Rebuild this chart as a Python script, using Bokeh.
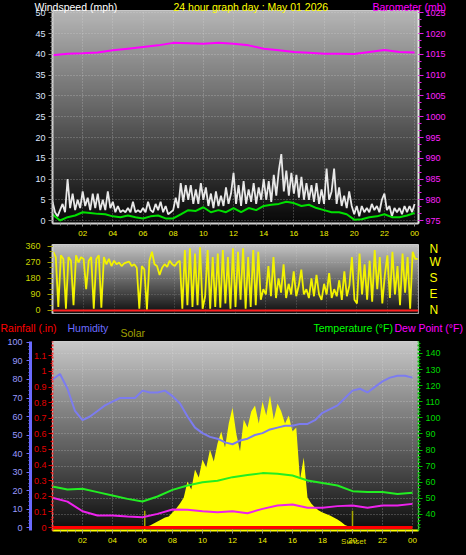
import numpy as np
from bokeh.plotting import figure
from bokeh.layouts import column
from bokeh.models import (Range1d, LinearAxis, FixedTicker, SingleIntervalTicker,
                          Label, Span, NumeralTickFormatter, GridBox)
from bokeh.embed import file_html
from bokeh.resources import INLINE

FONT = "Liberation Sans"

# ---------------- data ----------------
title_text = "24 hour graph day : May 01 2026"
tick_hours = [2, 4, 6, 8, 10, 12, 14, 16, 18, 20, 22, 24]
tick_labels = ["02", "04", "06", "08", "10", "12", "14", "16", "18", "20", "22", "00"]

# wind gust (mph), every 10 minutes 00:00 .. 24:00
gust_mph = [4.5, 2.0, 1.0, 2.5, 4.0, 2.0,
            10.0, 3.0, 6.5, 2.5, 5.0, 3.0,
            7.0, 3.5, 5.5, 2.5, 6.5, 3.0,
            6.5, 2.5, 5.0, 2.5, 7.0, 3.0,
            4.5, 2.0, 3.5, 2.0, 2.5, 2.0,
            3.0, 2.0, 4.5, 2.0, 2.5, 2.0,
            3.0, 2.0, 4.5, 2.5, 2.0, 4.0,
            2.5, 4.5, 2.0, 3.5, 1.5, 2.0,
            2.5, 5.5, 3.0, 9.0, 4.5, 8.5,
            5.0, 8.5, 4.0, 7.5, 4.0, 9.0,
            5.0, 8.0, 3.5, 6.5, 3.0, 7.0,
            3.5, 6.0, 3.5, 8.0, 4.0, 6.5,
            11.5, 4.0, 8.5, 3.5, 9.5, 4.0,
            7.5, 4.5, 9.0, 4.0, 8.0, 5.0,
            10.0, 5.0, 9.5, 4.5, 11.0, 6.0,
            12.0, 16.0, 7.0, 12.0, 6.0, 11.5,
            6.5, 11.0, 5.5, 10.5, 5.0, 9.0,
            5.0, 8.5, 4.5, 9.0, 4.0, 7.5,
            4.0, 12.5, 5.0, 7.0, 12.5, 4.0,
            8.0, 3.5, 6.0, 3.0, 7.0, 3.5,
            1.5, 3.5, 1.0, 3.5, 2.0, 3.0,
            2.0, 4.0, 2.5, 3.5, 2.0, 5.0,
            6.5, 2.5, 3.5, 1.0, 3.0, 2.0,
            3.0, 1.5, 3.5, 2.0, 3.5, 2.0,
            4.0]
# average wind speed (mph), every 30 minutes
avg_mph = [1.5, 0.0, 0.8, 1.2, 2.0, 1.8, 1.6, 1.5, 1.0, 0.8, 1.2, 0.8, 0.5, 1.0, 1.2, 0.5,
           0.5, 1.5, 2.5, 2.3, 3.2, 2.0, 2.5, 2.0, 3.0, 2.0, 3.0, 2.5, 3.5, 3.8, 4.0, 4.5,
           4.2, 3.5, 3.8, 3.0, 2.5, 2.0, 2.0, 1.5, 0.2, 0.3, 0.8, 1.0, 1.5, 0.8, 0.8, 1.2, 1.8]
# barometer (mb), hourly
baro_mb = [1014.8, 1015.2, 1015.3, 1015.5, 1016.0, 1016.4, 1016.8, 1017.2, 1017.8, 1017.7,
           1017.6, 1017.8, 1017.6, 1017.2, 1016.4, 1016.0, 1015.6, 1015.4, 1015.2, 1015.2,
           1015.1, 1015.6, 1016.1, 1015.6, 1015.5]
# wind direction (degrees), every 10 minutes
wind_dir = [330, 300, 20, 310, 290, 10,
            300, 280, 30, 310, 270, 300,
            290, 120, 280, 300, 10, 290,
            310, 15, 300, 260, 290, 250,
            280, 260, 270, 250, 265, 270,
            275, 250, 260, 240, 10, 250,
            230, 5, 280, 330, 260, 250,
            200, 240, 260, 245, 280, 260,
            250, 270, 280, 10, 340, 30,
            350, 20, 320, 30, 355, 10,
            80, 340, 10, 300, 20, 320,
            15, 340, 40, 300, 10, 350,
            20, 330, 60, 350, 10, 300,
            20, 340, 30, 330, 60, 120,
            90, 250, 80, 300, 70, 180,
            100, 260, 70, 150, 90, 220,
            80, 140, 230, 90, 120, 70,
            180, 80, 200, 90, 60, 150,
            90, 210, 70, 120, 80, 170,
            60, 220, 80, 140, 300, 60,
            40, 320, 90, 260, 60, 280,
            50, 340, 120, 300, 40, 200,
            310, 70, 330, 90, 250, 30,
            320, 100, 300, 10, 330, 290,
            290]
compass_labels = ["N", "W", "S", "E", "N"]
compass_deg = [360, 270, 180, 90, 0]
# humidity (%), every 30 minutes
humidity = [80, 83, 75, 63, 58, 60, 63, 66, 68, 70, 70, 70, 74, 73, 73, 74,
            71, 67, 60, 54, 51, 49, 48, 46, 45, 47, 48, 50, 51, 53, 54, 55,
            55, 56, 56, 58, 62, 64, 66, 70, 74, 75, 73, 76, 79, 81, 82, 82, 81]
# temperature and dew point (F), hourly
temp_f = [57.4, 55.5, 56.0, 53.9, 51.8, 49.7, 48.1, 51.2, 55.3, 58.0, 60.0, 61.0, 63.2,
          64.5, 65.7, 65.3, 64.2, 61.1, 59.5, 58.0, 54.5, 53.9, 53.9, 52.8, 53.5]
dew_f = [50.4, 48.0, 42.0, 39.4, 39.4, 38.8, 38.3, 40.4, 43.1, 42.9, 42.0, 41.4, 42.0,
         40.8, 43.5, 45.6, 46.2, 44.2, 44.2, 45.2, 45.6, 44.2, 45.6, 45.6, 46.6]
# rainfall (in), hourly
rain_in = [0, 0, 0, 0, 0, 0, 0, 0, 0, 0, 0, 0, 0, 0, 0, 0, 0, 0, 0, 0, 0, 0, 0, 0, 0]
# solar radiation (W/m2), every 15 minutes 06:00 .. 20:00
solar_wm2 = [0, 5, 10, 20, 30, 40, 50, 55, 75, 95, 120, 150, 230, 190, 290, 250,
             340, 300, 390, 330, 420, 480, 400, 520, 600, 470, 380, 540, 500, 580, 610, 520,
             630, 560, 660, 540, 620, 580, 520, 560, 480, 500, 240, 350, 150, 120, 100, 85,
             75, 68, 60, 50, 40, 28, 12, 5, 0]
sun_event_hours = [6.15, 20.0]
sun_event_names = ["Sunrise", "Sunset"]

# time stamps
t10_hours = [i / 6 for i in range(len(gust_mph))]
h_hours = [i / 2 for i in range(len(avg_mph))]
hours = list(range(len(baro_mb)))
solar_hours = [6 + i / 4 for i in range(len(solar_wm2))]
minor_hours = [i / 2 for i in range(1, 49)]

BG = "#000000"
common = dict(output_backend="svg", toolbar_location=None, background_fill_color=BG,
              border_fill_color=BG, outline_line_color="#cfcfcf", outline_line_width=1)


def gradient(p, top_gray, bottom_gray, rows=200):
    xr, yr = p.x_range, p.y_range
    lv = np.linspace(bottom_gray, top_gray, rows).astype(np.uint8)
    img = np.zeros((rows, 1), dtype=np.uint32)
    v = img.view(dtype=np.uint8).reshape((rows, 1, 4))
    v[:, 0, 0] = lv
    v[:, 0, 1] = lv
    v[:, 0, 2] = lv
    v[:, 0, 3] = 255
    p.image_rgba(image=[img], x=xr.start, y=yr.start, dw=xr.end - xr.start,
                 dh=yr.end - yr.start, level="image")


def style_axis(ax, tick_color, label_color, size="9px", tick_out=4, minor_out=2,
               standoff=3, line_color="#d0d0d0", line_width=2, dash="solid"):
    ax.axis_line_color = line_color
    ax.axis_line_width = line_width
    ax.axis_line_dash = dash
    ax.major_tick_line_color = tick_color
    ax.minor_tick_line_color = tick_color
    ax.major_tick_in = 0
    ax.minor_tick_in = 0
    ax.major_tick_out = tick_out
    ax.minor_tick_out = minor_out
    ax.major_label_text_color = label_color
    ax.major_label_text_font = FONT
    ax.major_label_text_font_size = size
    ax.major_label_standoff = standoff


def style_grid(g):
    g.grid_line_color = "#e0e0e0"
    g.grid_line_alpha = 0.45
    g.grid_line_dash = "1 2"


overrides = dict(zip(tick_hours, tick_labels))

# ---------------- panel 1 : wind & barometer ----------------
p1 = figure(width=466, height=241, x_range=Range1d(0, 24.26), y_range=Range1d(-0.72, 50.6),
            min_border_left=42, min_border_right=48, min_border_top=10, min_border_bottom=18,
            **common)
p1.extra_y_ranges = {"baro": Range1d(974.28, 1025.6)}
gradient(p1, 182, 8)
p1.xaxis.ticker = FixedTicker(ticks=tick_hours, minor_ticks=minor_hours)
p1.xaxis.major_label_overrides = overrides
style_axis(p1.xaxis[0], "#909090", "#f0f000", size="8px", tick_out=3, minor_out=2, standoff=4)
p1.yaxis.ticker = SingleIntervalTicker(interval=5, num_minor_ticks=5)
style_axis(p1.yaxis[0], "#909090", "#dde6ff", size="9px", tick_out=4, minor_out=2, standoff=3)
baro_ax = LinearAxis(y_range_name="baro", ticker=SingleIntervalTicker(interval=5, num_minor_ticks=3))
style_axis(baro_ax, "#e020e0", "#ff20ff", size="9px", tick_out=5, minor_out=3, standoff=2,
           line_color="#e8e8e8")
p1.add_layout(baro_ax, "right")
for g in p1.grid:
    style_grid(g)

p1.line(t10_hours, gust_mph, line_color="#e8e8e8", line_width=1.8)
p1.line(h_hours, avg_mph, line_color="#00e000", line_width=2)
p1.line(hours, baro_mb, y_range_name="baro", line_color="#ff00ff", line_width=2)

# ---------------- panel 2 : wind direction ----------------
p2 = figure(width=466, height=77, x_range=Range1d(-0.05, 24.05), y_range=Range1d(-17, 371),
            x_axis_location=None, min_border_left=49, min_border_right=44, min_border_top=3,
            min_border_bottom=5, **common)
gradient(p2, 196, 16)
p2.yaxis.ticker = SingleIntervalTicker(interval=90, num_minor_ticks=3)
style_axis(p2.yaxis[0], "#a0a000", "#c8d400", size="9px", tick_out=5, minor_out=3, standoff=7)
compass_ax = LinearAxis(ticker=FixedTicker(ticks=compass_deg),
                        major_label_overrides=dict(zip(compass_deg, compass_labels)))
style_axis(compass_ax, "#000000", "#ffff00", size="12px", tick_out=0, minor_out=0, standoff=11,
           line_color=None)
p2.add_layout(compass_ax, "right")
for g in p2.xgrid:
    g.ticker = FixedTicker(ticks=tick_hours)
for g in p2.grid:
    style_grid(g)
    g.grid_line_alpha = 0.3

p2.line(t10_hours, wind_dir, line_color="#f2f200", line_width=1.8)
p2.add_layout(Span(location=0, dimension="width", line_color="#ff2020", line_width=2))

# ---------------- panel 3 : rain / humidity / solar / temperature ----------------
p3 = figure(width=466, height=237, x_range=Range1d(0, 24.4), y_range=Range1d(30.06, 147.45),
            y_axis_location=None, min_border_left=52, min_border_right=45, min_border_top=23,
            min_border_bottom=25, **common)
p3.extra_y_ranges = {"hum": Range1d(-1.62, 100.54), "rain": Range1d(-0.0192, 1.192),
                     "solar": Range1d(-15, 930)}
gradient(p3, 200, 14)
p3.xaxis.ticker = FixedTicker(ticks=tick_hours, minor_ticks=minor_hours)
p3.xaxis.major_label_overrides = overrides
style_axis(p3.xaxis[0], "#909090", "#f0f000", size="8px", tick_out=3, minor_out=2, standoff=4,
           line_color="#ffff00")
for g in p3.ygrid:
    g.ticker = SingleIntervalTicker(interval=10)
for g in p3.grid:
    style_grid(g)

rain_ax = LinearAxis(y_range_name="rain", ticker=SingleIntervalTicker(interval=0.1, num_minor_ticks=2),
                     formatter=NumeralTickFormatter(format="0.[0]"))
style_axis(rain_ax, "#e00000", "#e00000", size="9px", tick_out=4, minor_out=2, standoff=2,
           line_color="#ff3030", dash="2 2")
hum_ax = LinearAxis(y_range_name="hum", ticker=SingleIntervalTicker(interval=10, num_minor_ticks=5))
style_axis(hum_ax, "#6a6aff", "#9a9aff", size="9px", tick_out=4, minor_out=2, standoff=4,
           line_color="#6a6aff", line_width=3)
p3.add_layout(rain_ax, "left")
p3.add_layout(hum_ax, "left")
temp_ax = LinearAxis(ticker=SingleIntervalTicker(interval=10, num_minor_ticks=5))
style_axis(temp_ax, "#00c000", "#00d800", size="9px", tick_out=4, minor_out=2, standoff=3,
           line_color="#00c000", dash="2 2")
p3.add_layout(temp_ax, "right")

p3.varea(x=solar_hours, y1=0, y2=solar_wm2, y_range_name="solar", fill_color="#ffff00")
p3.segment(x0=sun_event_hours, y0=-1.6, x1=sun_event_hours, y1=9, y_range_name="hum",
           line_color="#a8a800", line_width=1.5)
p3.line(h_hours, humidity, y_range_name="hum", line_color="#7c7cf0", line_width=2)
p3.line(hours, temp_f, line_color="#22ee22", line_width=2)
p3.line(hours, dew_f, line_color="#ee22ee", line_width=2)
p3.line(hours, rain_in, y_range_name="rain", line_color="#ff0000", line_width=3)

charts = column(p1, p2, p3, spacing=0, styles={"background-color": "#000000"})

# ---------------- transparent overlay for texts outside the plot frames ----------------
ov = figure(width=466, height=555, x_range=Range1d(0, 466), y_range=Range1d(555, 0),
            x_axis_location=None, y_axis_location=None, output_backend="svg",
            toolbar_location=None, min_border=0, outline_line_color=None,
            background_fill_alpha=0, border_fill_alpha=0)
ov.grid.visible = False


def ov_text(text, x, y, color, size="10.5px", align="left"):
    ov.add_layout(Label(x=x, y=y, text=text, text_color=color, text_font=FONT,
                        text_font_size=size, text_baseline="middle", text_align=align))


ov_text("Windspeed (mph)", 34, 6, "#ffffff")
ov_text(title_text, 173, 6, "#ffff00")
ov_text("Barometer (mb)", 372, 6, "#ff00ff")
ov_text("Rainfall (.in)", 0, 327, "#ff0000")
ov_text("Humidity", 67, 327, "#6c6cff")
ov_text("Solar", 120, 332, "#a0a000")
ov_text("Temperature (\u00b0F)", 313, 327, "#00ff00")
ov_text("Dew Point (\u00b0F)", 394, 327, "#ff00ff")
ov_text(sun_event_names[1], 353, 541, "#d8d800", size="8px", align="center")

root = GridBox(children=[(charts, 0, 0), (ov, 0, 0)], styles={"background-color": "#000000"})
open("out.html", "w").write(file_html(root, INLINE))
